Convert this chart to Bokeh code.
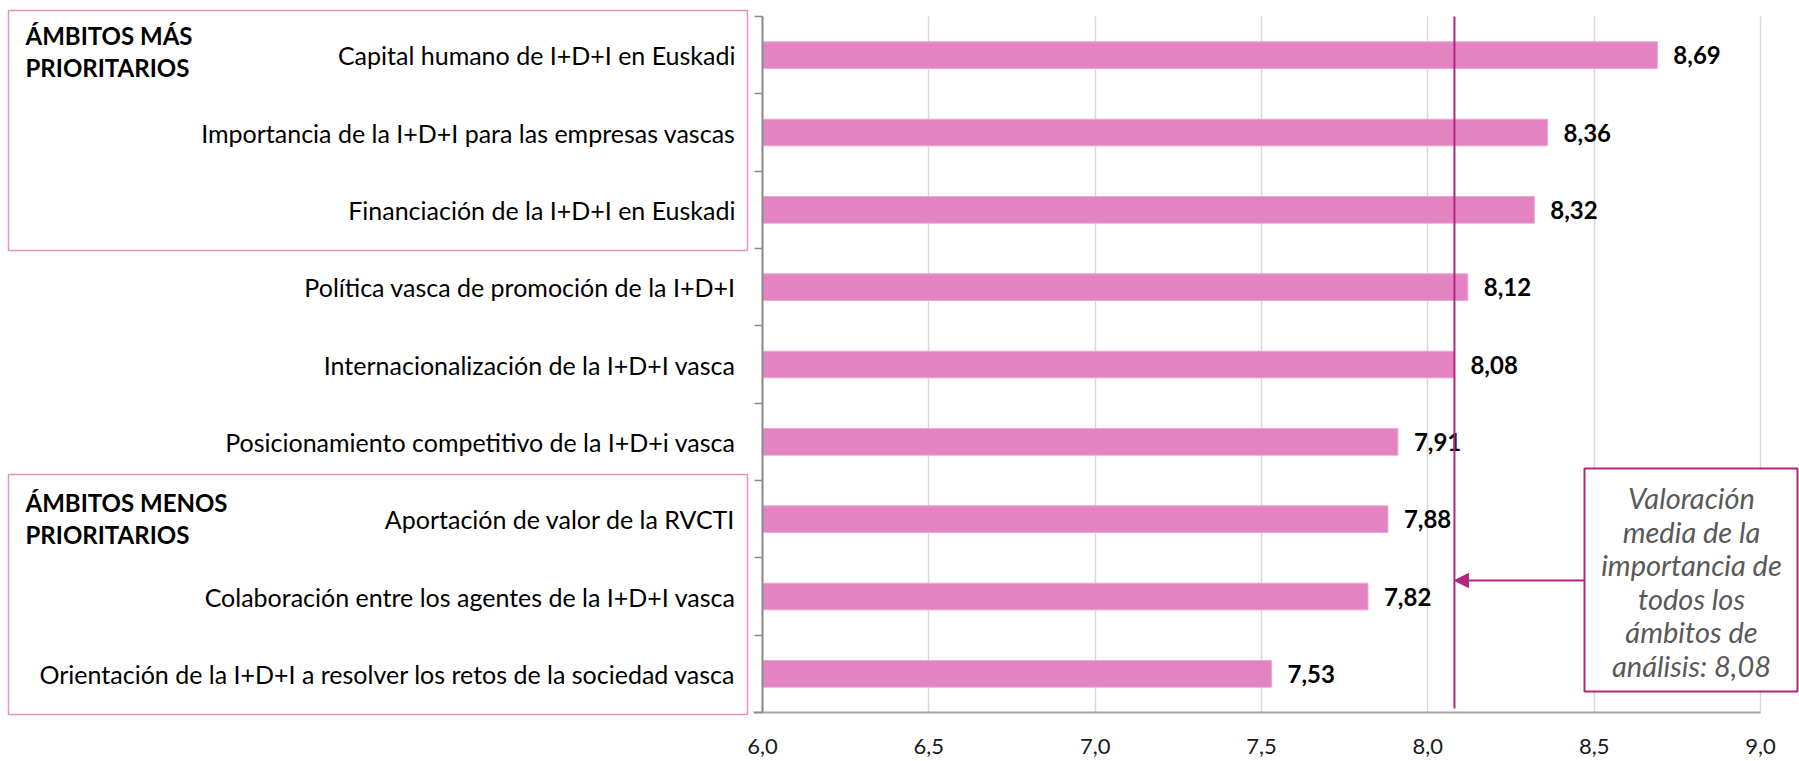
from bokeh.plotting import figure
from bokeh.models import (Range1d, FixedTicker, BoxAnnotation, Label, Arrow, NormalHead,
                          ColumnDataSource, LinearAxis, Grid)
from bokeh.core.properties import value
from bokeh.embed import file_html
from bokeh.resources import INLINE

# ---------------- data ----------------
categories = [
    "Capital humano de I+D+I en Euskadi",
    "Importancia de la I+D+I para las empresas vascas",
    "Financiación de la I+D+I en Euskadi",
    "Política vasca de promoción de la I+D+I",
    "Internacionalización de la I+D+I vasca",
    "Posicionamiento competitivo de la I+D+i vasca",
    "Aportación de valor de la RVCTI",
    "Colaboración entre los agentes de la I+D+I vasca",
    "Orientación de la I+D+I a resolver los retos de la sociedad vasca",
]
values = [8.69, 8.36, 8.32, 8.12, 8.08, 7.91, 7.88, 7.82, 7.53]
mean_value = 8.08
x_ticks = [6.0, 6.5, 7.0, 7.5, 8.0, 8.5, 9.0]
group_top = ["ÁMBITOS MÁS", "PRIORITARIOS"]
group_bottom = ["ÁMBITOS MENOS", "PRIORITARIOS"]
note_lines = ["Valoración", "media de la", "importancia de", "todos los", "ámbitos de",
              "análisis: " + f"{mean_value:.2f}".replace(".", ",")]

# ---------------- layout ----------------
W, H = 1799, 761
AX_L, AX_R, AX_T, AX_B = 762, 1760, 16, 712   # plot area in page pixels
X0, X1 = 6.0, 9.0
N = len(categories)
SX = (AX_R - AX_L) / (X1 - X0)
SY = (AX_B - AX_T) / N

def px2x(px):
    return X0 + (px - AX_L) / SX

def px2y(py):
    return (py - AX_T) / SY

FONT = value("Lato")
BAR = "#E483C2"
MAG = "#B3247E"
PINK_BOX = "#E890C8"

p = figure(width=W, height=H,
           x_range=Range1d(px2x(0), px2x(W)), y_range=Range1d(px2y(H), px2y(0)),
           x_axis_type=None, y_axis_type=None,
           output_backend="svg", toolbar_location=None,
           min_border=0, min_border_left=0, min_border_right=0,
           min_border_top=0, min_border_bottom=0)
p.outline_line_color = None
p.background_fill_color = "white"
p.border_fill_color = "white"

ys = [i + 0.5 for i in range(N)]
labels = [f"{v:.2f}".replace(".", ",") for v in values]
src = ColumnDataSource(dict(y=ys, right=values, label=labels))

# vertical grid lines limited to the plot area
grid = Grid(dimension=0, ticker=FixedTicker(ticks=x_ticks), bounds=(X0, X1), cross_bounds=(0, N),
            grid_line_color="#D9D9D9", grid_line_width=1.5)
p.add_layout(grid)

# x axis
xaxis = LinearAxis(fixed_location=N, bounds=(px2x(753), X1), ticker=FixedTicker(ticks=x_ticks))
xaxis.major_label_overrides = {t: f"{t:.1f}".replace(".", ",") for t in x_ticks}
xaxis.major_tick_out = 0
xaxis.major_tick_in = 0
xaxis.minor_tick_out = 0
xaxis.minor_tick_in = 0
xaxis.axis_line_color = "#A6A6A6"
xaxis.axis_line_width = 2
xaxis.major_label_text_font = "Lato"
xaxis.major_label_text_font_size = "22px"
xaxis.major_label_text_color = "#1a1a1a"
xaxis.major_label_standoff = 26
p.add_layout(xaxis, "below")

# y axis: labels at category centres, ticks at boundaries
yaxis = LinearAxis(fixed_location=X0, bounds=(0, N),
                   ticker=FixedTicker(ticks=ys, minor_ticks=list(range(N + 1))))
yaxis.major_label_overrides = {y: c for y, c in zip(ys, categories)}
yaxis.major_tick_out = 0
yaxis.major_tick_in = 0
yaxis.minor_tick_out = 8
yaxis.minor_tick_in = 0
yaxis.minor_tick_line_color = "#8C8C8C"
yaxis.minor_tick_line_width = 1.5
yaxis.axis_line_color = "#8C8C8C"
yaxis.axis_line_width = 2
yaxis.major_label_text_font = "Lato"
yaxis.major_label_text_font_size = "25px"
yaxis.major_label_text_color = "black"
yaxis.major_label_standoff = 19
p.add_layout(yaxis, "left")

# bars
p.hbar(y="y", left=X0, right="right", height=0.345, source=src,
       fill_color=BAR, line_color="#EBA6D3", line_width=1)

# value labels
p.text(x="right", y="y", text="label", source=src, x_offset=16,
       text_baseline="middle", text_align="left", text_font=FONT,
       text_font_style="bold", text_font_size="24px", text_color="black")

# mean line
p.segment(x0=[mean_value], y0=[0], x1=[mean_value], y1=[px2y(708)], line_color=MAG, line_width=2)

# group boxes on the left
for top_px, bot_px in [(10, 250), (474, 714)]:
    p.add_layout(BoxAnnotation(left=px2x(8), right=px2x(747), top=px2y(top_px), bottom=px2y(bot_px),
                               fill_alpha=0, line_color=PINK_BOX, line_width=1.5, line_alpha=1))

for lines, y0 in [(group_top, 35), (group_bottom, 502)]:
    for k, txt in enumerate(lines):
        p.add_layout(Label(x=px2x(25), y=px2y(y0 + 32 * k), text=txt, text_font="Lato",
                           text_font_style="bold", text_font_size="24px", text_color="black",
                           text_baseline="middle", text_align="left"))

# annotation box with arrow to the mean line
p.add_layout(BoxAnnotation(left=px2x(1584), right=px2x(1797), top=px2y(468), bottom=px2y(691),
                           fill_color="white", fill_alpha=1, line_color=MAG, line_width=2, line_alpha=1))
p.add_layout(Arrow(x_start=px2x(1584), y_start=px2y(580), x_end=mean_value, y_end=px2y(580),
                   line_color=MAG, line_width=2,
                   end=NormalHead(size=14, fill_color=MAG, line_color=MAG)))
for k, txt in enumerate(note_lines):
    p.add_layout(Label(x=px2x(1691), y=px2y(497 + 33.5 * k), text=txt, text_font="Lato",
                       text_font_style="italic", text_font_size="29px", text_color="#595959",
                       text_align="center", text_baseline="middle"))

open("out.html", "w").write(file_html(p, INLINE))
